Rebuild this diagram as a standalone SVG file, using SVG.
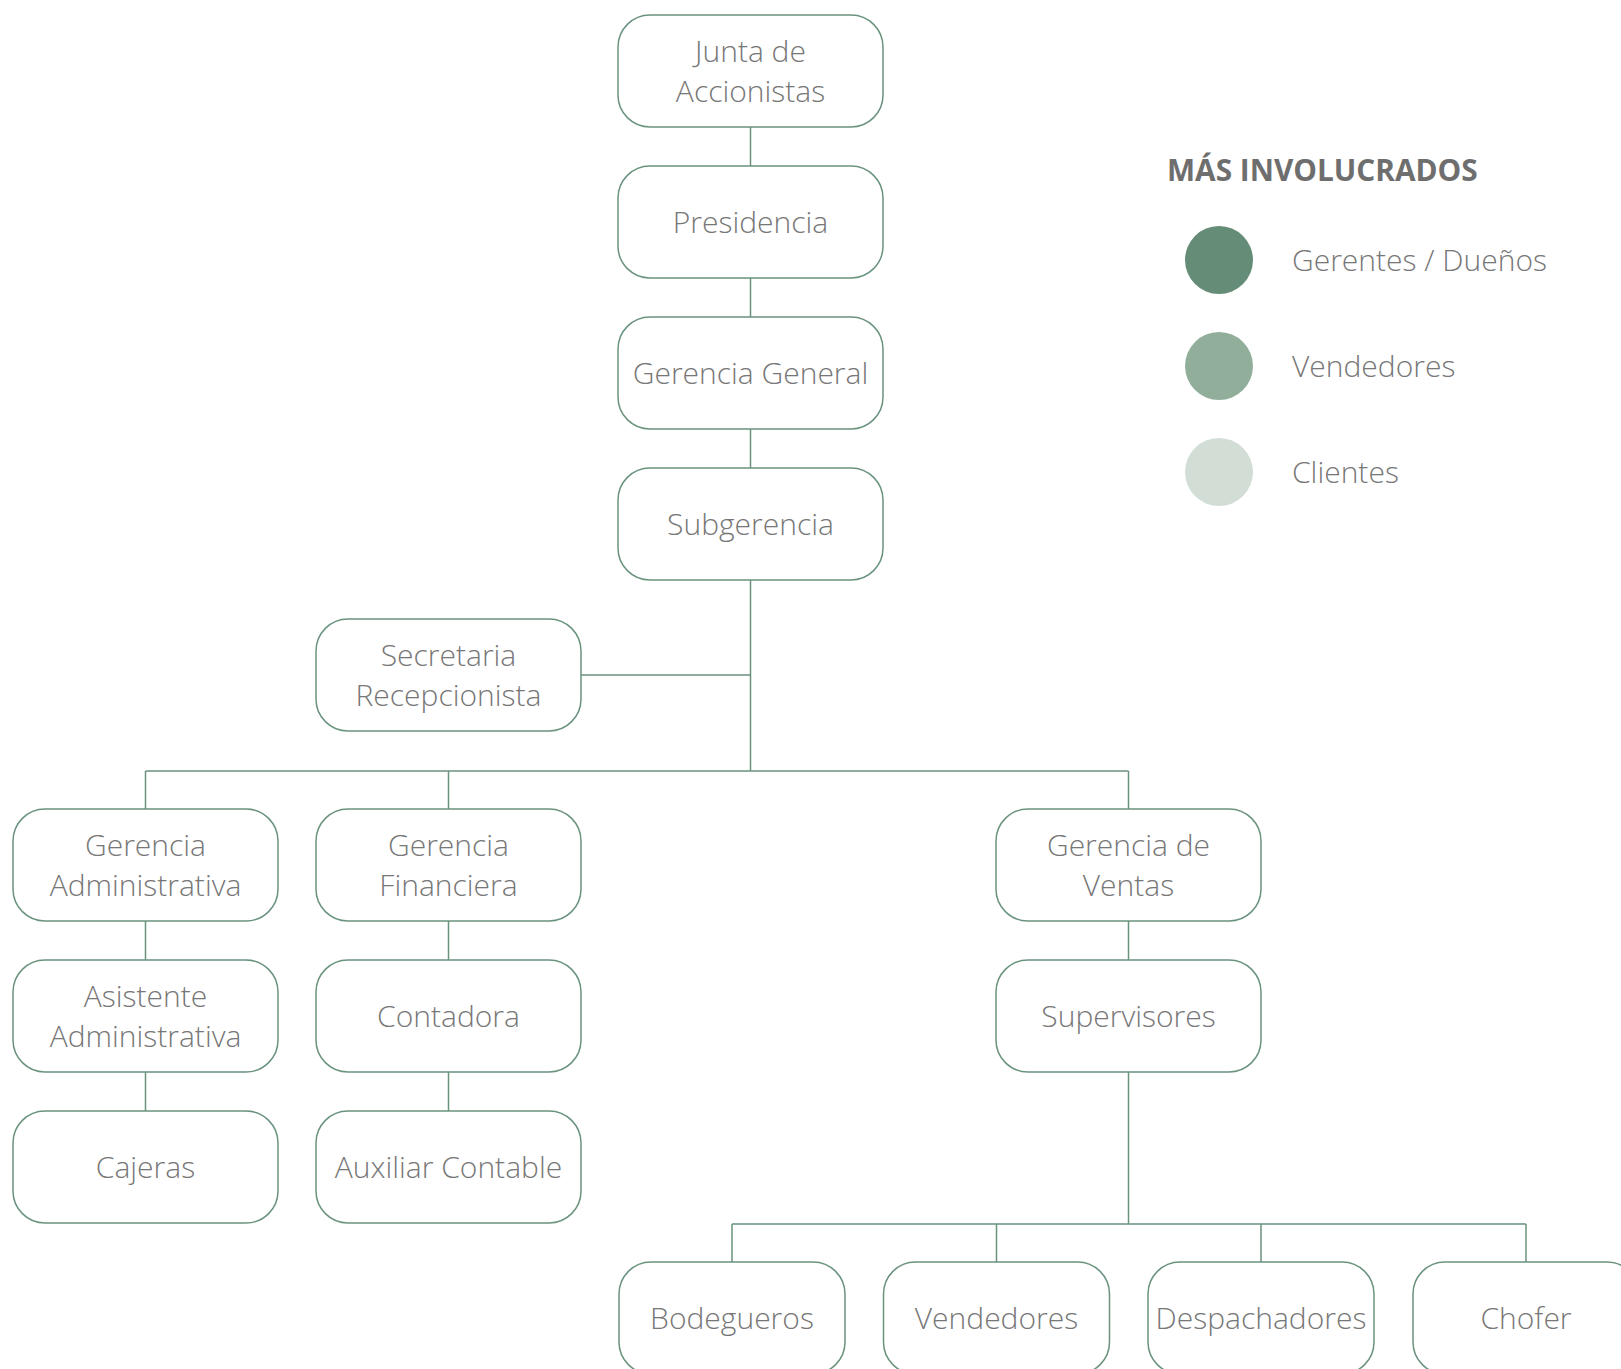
<svg xmlns="http://www.w3.org/2000/svg" width="1621" height="1369" viewBox="0 0 1621 1369">
<defs>
<style>
.box{fill:#fff;stroke:#6a937e;stroke-width:1.5}
.lbl{font-family:"Open Sans","Noto Sans","Liberation Sans",sans-serif;font-weight:300;font-size:30px;fill:#777;text-anchor:middle}
.con{stroke:#6a937e;stroke-width:1.5;fill:none}
.leg{font-family:"Open Sans","Noto Sans","Liberation Sans",sans-serif;font-weight:300;font-size:30px;fill:#777}
.ttl{font-family:"Open Sans","Noto Sans","Liberation Sans",sans-serif;font-weight:700;font-size:29.8px;fill:#6e6e6e}
</style>
</defs>
<rect width="1621" height="1369" fill="#fff"/>
<g id="connectors">
<path class="con" d="M750.5 127V166M750.5 278V317M750.5 429V468M750.5 580V771M581 675H750.5M145.5 771H1128.5M145.5 771V809M448.5 771V809M1128.5 771V809M145.5 921V960M145.5 1072V1111M448.5 921V960M448.5 1072V1111M1128.5 921V960M1128.5 1072V1224M732 1224H1526M732 1224V1262M996.5 1224V1262M1261 1224V1262M1526 1224V1262"/>
</g>
<g id="n-junta"><rect class="box" x="618" y="15" width="265" height="112" rx="32"/><text class="lbl" x="750.5" y="62">Junta de</text><text class="lbl" x="750.5" y="102">Accionistas</text></g>
<g id="n-presidencia"><rect class="box" x="618" y="166" width="265" height="112" rx="32"/><text class="lbl" x="750.5" y="233">Presidencia</text></g>
<g id="n-gerencia-general"><rect class="box" x="618" y="317" width="265" height="112" rx="32"/><text class="lbl" x="750.5" y="384">Gerencia General</text></g>
<g id="n-subgerencia"><rect class="box" x="618" y="468" width="265" height="112" rx="32"/><text class="lbl" x="750.5" y="535">Subgerencia</text></g>
<g id="n-secretaria"><rect class="box" x="316" y="619" width="265" height="112" rx="32"/><text class="lbl" x="448.5" y="666">Secretaria</text><text class="lbl" x="448.5" y="706">Recepcionista</text></g>
<g id="n-ger-admin"><rect class="box" x="13" y="809" width="265" height="112" rx="32"/><text class="lbl" x="145.5" y="856">Gerencia</text><text class="lbl" x="145.5" y="896">Administrativa</text></g>
<g id="n-ger-fin"><rect class="box" x="316" y="809" width="265" height="112" rx="32"/><text class="lbl" x="448.5" y="856">Gerencia</text><text class="lbl" x="448.5" y="896">Financiera</text></g>
<g id="n-ger-ventas"><rect class="box" x="996" y="809" width="265" height="112" rx="32"/><text class="lbl" x="1128.5" y="856">Gerencia de</text><text class="lbl" x="1128.5" y="896">Ventas</text></g>
<g id="n-asistente"><rect class="box" x="13" y="960" width="265" height="112" rx="32"/><text class="lbl" x="145.5" y="1007">Asistente</text><text class="lbl" x="145.5" y="1047">Administrativa</text></g>
<g id="n-contadora"><rect class="box" x="316" y="960" width="265" height="112" rx="32"/><text class="lbl" x="448.5" y="1027">Contadora</text></g>
<g id="n-supervisores"><rect class="box" x="996" y="960" width="265" height="112" rx="32"/><text class="lbl" x="1128.5" y="1027">Supervisores</text></g>
<g id="n-cajeras"><rect class="box" x="13" y="1111" width="265" height="112" rx="32"/><text class="lbl" x="145.5" y="1178">Cajeras</text></g>
<g id="n-auxiliar"><rect class="box" x="316" y="1111" width="265" height="112" rx="32"/><text class="lbl" x="448.5" y="1178">Auxiliar Contable</text></g>
<g id="n-bodegueros"><rect class="box" x="619" y="1262" width="226" height="112" rx="32"/><text class="lbl" x="732" y="1329">Bodegueros</text></g>
<g id="n-vendedores"><rect class="box" x="883.5" y="1262" width="226" height="112" rx="32"/><text class="lbl" x="996.5" y="1329">Vendedores</text></g>
<g id="n-despachadores"><rect class="box" x="1148" y="1262" width="226" height="112" rx="32"/><text class="lbl" x="1261" y="1329">Despachadores</text></g>
<g id="n-chofer"><rect class="box" x="1413" y="1262" width="226" height="112" rx="32"/><text class="lbl" x="1526" y="1329">Chofer</text></g>
<g id="legend">
<text class="ttl" x="1167" y="181">MÁS INVOLUCRADOS</text>
<circle cx="1219" cy="260" r="34" fill="#658c76"/>
<text class="leg" x="1292" y="271">Gerentes / Dueños</text>
<circle cx="1219" cy="366" r="34" fill="#91ae9b"/>
<text class="leg" x="1292" y="377">Vendedores</text>
<circle cx="1219" cy="472" r="34" fill="#d1ddd5"/>
<text class="leg" x="1292" y="483">Clientes</text>
</g>
</svg>
